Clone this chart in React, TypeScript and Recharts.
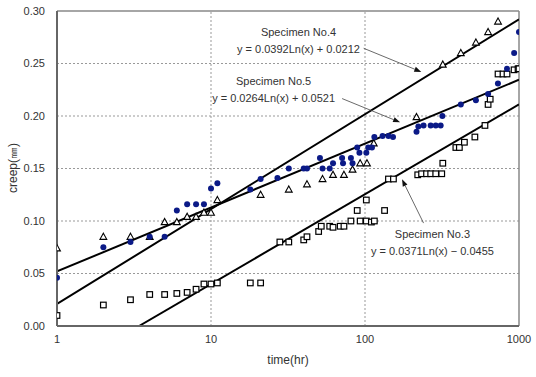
import { ComposedChart, Scatter, Line, XAxis, YAxis, ReferenceLine, ReferenceDot, Label } from "recharts";

// [time (hr), creep (mm)]
const specimen4 = [
  [1, 0.074], [2, 0.085], [3, 0.085], [4, 0.085], [5, 0.099], [6, 0.099], [7, 0.104], [8, 0.104],
  [9, 0.108], [10, 0.108], [11, 0.12], [21, 0.125], [32, 0.13], [42, 0.135], [53, 0.14], [62, 0.144],
  [73, 0.144], [83, 0.149], [93, 0.155], [103, 0.155], [114, 0.174], [216, 0.199], [320, 0.249],
  [419, 0.26], [525, 0.27], [630, 0.28], [731, 0.29],
];

const specimen5 = [
  [1, 0.046], [2, 0.075], [3, 0.08], [4, 0.085], [5, 0.085], [6, 0.11], [7, 0.116], [8, 0.116],
  [9, 0.116], [10, 0.131], [11, 0.136], [18, 0.13], [21, 0.14], [27, 0.141], [32, 0.15], [40, 0.15],
  [42, 0.15], [51, 0.16], [53, 0.15], [59, 0.15], [62, 0.155], [71, 0.16], [72, 0.155], [81, 0.16],
  [83, 0.155], [89, 0.17], [92, 0.165], [102, 0.165], [105, 0.17], [111, 0.17], [115, 0.18],
  [130, 0.181], [142, 0.181], [152, 0.18], [216, 0.185], [222, 0.19], [240, 0.191], [267, 0.191],
  [288, 0.191], [310, 0.191], [318, 0.2], [419, 0.211], [525, 0.215], [630, 0.221], [730, 0.231],
  [836, 0.245], [930, 0.26], [1000, 0.28],
];

const specimen3 = [
  [1, 0.01], [2, 0.02], [3, 0.025], [4, 0.03], [5, 0.03], [6, 0.031], [7, 0.032], [8, 0.035],
  [9, 0.04], [10, 0.04], [11, 0.041], [18, 0.041], [21, 0.041], [28, 0.08], [32, 0.08], [40, 0.082],
  [42, 0.085], [50, 0.09], [52, 0.095], [59, 0.095], [62, 0.094], [69, 0.095], [73, 0.095],
  [81, 0.1], [89, 0.11], [93, 0.1], [102, 0.12], [102, 0.1], [110, 0.099], [115, 0.1], [134, 0.11],
  [142, 0.14], [153, 0.14], [220, 0.144], [233, 0.145], [251, 0.145], [267, 0.145], [288, 0.145],
  [315, 0.145], [320, 0.155], [389, 0.17], [410, 0.17], [442, 0.175], [517, 0.18], [601, 0.191],
  [630, 0.211], [650, 0.216], [731, 0.24], [787, 0.24], [836, 0.24], [929, 0.244], [986, 0.245],
  [1000, 0.245],
];

// trend line end points
const trend4 = [[1, 0.021], [1000, 0.292]];
const trend5 = [[1, 0.052], [1000, 0.2345]];
const trend3 = [[3.41, 0], [1000, 0.211]];

const xTicks = [1, 10, 100, 1000];
const yTicks = [0, 0.05, 0.1, 0.15, 0.2, 0.25, 0.3];

const notes = [
  { name: "Specimen No.4", eq: "y = 0.0392Ln(x) + 0.0212", at: [37, 0.272], from: [98, 0.2645], to: [232, 0.242] },
  { name: "Specimen No.5", eq: "y = 0.0264Ln(x) + 0.0521", at: [25.5, 0.225], from: [71, 0.2166], to: [169, 0.194] },
  { name: "Specimen No.3", eq: "y = 0.0371Ln(x) \u2212 0.0455", at: [274, 0.08], from: [240, 0.098], to: [174, 0.1397] },
];

const toPts = (arr: number[][]) => arr.map(([x, y]) => ({ x, y }));

const FONT = "'Liberation Sans', Arial, sans-serif";

const Tri = (p: any) => (
  <path d={`M${p.cx},${p.cy - 3.6} L${p.cx + 3.4},${p.cy + 2.6} L${p.cx - 3.4},${p.cy + 2.6} Z`}
    fill="#fff" stroke="#000" strokeWidth={1.1} />
);
const Sq = (p: any) => (
  <rect x={p.cx - 2.8} y={p.cy - 2.8} width={5.6} height={5.6} fill="#fff" stroke="#000" strokeWidth={1.2} />
);
const Dot = (p: any) => <circle cx={p.cx} cy={p.cy} r={3} fill="#0b1a87" />;

const Arrow = (p: any) => {
  const { x1, y1, x2, y2 } = p;
  const a = Math.atan2(y2 - y1, x2 - x1);
  const L = 7, W = 2.6;
  const bx = x2 - L * Math.cos(a), by = y2 - L * Math.sin(a);
  const nx = -Math.sin(a) * W, ny = Math.cos(a) * W;
  return (
    <g>
      <line x1={x1} y1={y1} x2={bx} y2={by} stroke="#444" strokeWidth={0.8} />
      <polygon points={`${x2},${y2} ${bx + nx},${by + ny} ${bx - nx},${by - ny}`} fill="#111" />
    </g>
  );
};

const grid = { stroke: "#999", strokeDasharray: "2 2", strokeWidth: 1 };

export default function App() {
  return (
    <div style={{ position: "absolute", left: 0, top: 0, width: 536, height: 377, background: "#fff" }}>
      <ComposedChart width={536} height={377} margin={{ top: 11, right: 17, bottom: 0, left: 0 }}>
        <XAxis dataKey="x" type="number" scale="log" domain={[1, 1000]} ticks={xTicks} allowDataOverflow
          height={51} axisLine={{ stroke: "#666", strokeWidth: 2 }} tickLine={false} tickSize={6} tickMargin={3}
          tick={{ fontSize: 11, fill: "#333", fontFamily: FONT }}>
          <Label value="time(hr)" position="insideBottom" offset={13} style={{ fontSize: 12, fill: "#333", fontFamily: FONT }} />
        </XAxis>
        <YAxis dataKey="y" type="number" domain={[0, 0.3]} ticks={yTicks} allowDataOverflow width={57}
          axisLine={{ stroke: "#666", strokeWidth: 2 }} tickLine={false} tickSize={6} tickMargin={6}
          tickFormatter={(v: number) => v.toFixed(2)}
          tick={{ fontSize: 11, fill: "#333", fontFamily: FONT }}>
          <Label content={() => (
            <text x={14} y={168} transform="rotate(-90 14 168)" textAnchor="middle" dominantBaseline="middle"
              fontSize={12} fill="#333" fontFamily={FONT}>creep(㎜)</text>
          )} />
        </YAxis>

        {[0.05, 0.1, 0.15, 0.2, 0.25].map((v) => <ReferenceLine key={"h" + v} y={v} {...grid} />)}
        {[10, 100].map((v) => <ReferenceLine key={"v" + v} x={v} {...grid} />)}
        <ReferenceLine y={0.3} stroke="#888" strokeWidth={1.5} />
        <ReferenceLine x={1000} stroke="#888" strokeWidth={1.5} />

        <Line data={toPts(trend4)} dataKey="y" type="linear" stroke="#000" strokeWidth={2} dot={false} isAnimationActive={false} />
        <Line data={toPts(trend5)} dataKey="y" type="linear" stroke="#000" strokeWidth={2} dot={false} isAnimationActive={false} />
        <Line data={toPts(trend3)} dataKey="y" type="linear" stroke="#000" strokeWidth={2} dot={false} isAnimationActive={false} />

        <Scatter data={toPts(specimen3)} shape={Sq} isAnimationActive={false} />
        <Scatter data={toPts(specimen4)} shape={Tri} isAnimationActive={false} />
        <Scatter data={toPts(specimen5)} shape={Dot} isAnimationActive={false} />

        {notes.map((n) => (
          <ReferenceLine key={"a" + n.name} segment={[{ x: n.from[0], y: n.from[1] }, { x: n.to[0], y: n.to[1] }]} shape={Arrow} />
        ))}
        {notes.map((n) => (
          <ReferenceDot key={"t" + n.name} x={n.at[0]} y={n.at[1]} r={1}
            shape={(p: any) => (
              <text x={p.cx} y={p.cy} textAnchor="middle" fontSize={11} fill="#333" fontFamily={FONT}>
                <tspan x={p.cx} dy={-4.5}>{n.name}</tspan>
                <tspan x={p.cx} dy={17}>{n.eq}</tspan>
              </text>
            )} />
        ))}
      </ComposedChart>
    </div>
  );
}
